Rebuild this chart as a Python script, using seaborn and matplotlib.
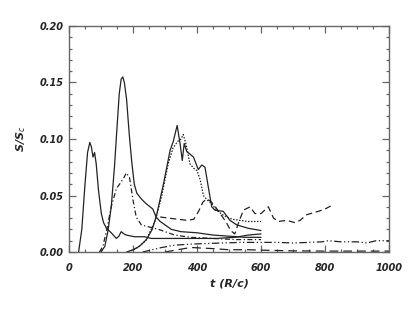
import numpy as np
import pandas as pd
import matplotlib
matplotlib.use("Agg")
import matplotlib.pyplot as plt
import seaborn as sns
from matplotlib.ticker import MultipleLocator, FormatStrFormatter

# =========================
# DATA
# =========================
t1 = [30, 40, 50, 58, 65, 70, 75, 80, 85, 92, 101, 108, 117, 132, 148, 156, 163, 172, 179, 205, 236, 257, 290, 340, 400, 460, 520, 560, 600]
s1 = [0.0, 0.02, 0.06, 0.088, 0.097, 0.093, 0.084, 0.088, 0.078, 0.055, 0.034, 0.026, 0.021, 0.017, 0.012, 0.014, 0.018, 0.016, 0.015, 0.0135, 0.0135, 0.012, 0.012, 0.012, 0.012, 0.012, 0.013, 0.015, 0.016]

t2 = [100, 112, 122, 132, 142, 150, 157, 163, 168, 173, 180, 188, 196, 204, 212, 226, 240, 262, 272, 285, 300, 320, 350, 400, 450, 500, 550, 600]
s2 = [0.0, 0.005, 0.019, 0.040, 0.075, 0.11, 0.140, 0.153, 0.155, 0.150, 0.135, 0.105, 0.080, 0.060, 0.052, 0.047, 0.043, 0.038, 0.031, 0.027, 0.024, 0.020, 0.018, 0.017, 0.015, 0.014, 0.013, 0.013]

t3 = [95, 106, 118, 132, 148, 163, 172, 179, 189, 200, 210, 226, 252, 280, 300, 330, 380, 450, 520, 600]
s3 = [0.0, 0.005, 0.020, 0.040, 0.056, 0.062, 0.066, 0.070, 0.066, 0.046, 0.031, 0.024, 0.022, 0.020, 0.018, 0.015, 0.013, 0.012, 0.011, 0.011]

t4 = [180, 200, 220, 242, 260, 274, 295, 316, 326, 338, 347, 354, 360, 368, 389, 404, 415, 425, 435, 446, 456, 482, 503, 524, 560, 600]
s4 = [0.0, 0.002, 0.005, 0.011, 0.020, 0.033, 0.060, 0.090, 0.098, 0.112, 0.096, 0.081, 0.096, 0.089, 0.084, 0.073, 0.077, 0.075, 0.058, 0.040, 0.037, 0.036, 0.028, 0.024, 0.021, 0.019]

t5 = [185, 210, 240, 270, 290, 310, 325, 340, 350, 357, 365, 378, 390, 400, 410, 420, 432, 445, 461, 480, 493, 510, 534, 560, 600]
s5 = [0.0, 0.003, 0.010, 0.028, 0.050, 0.078, 0.092, 0.098, 0.100, 0.104, 0.096, 0.078, 0.074, 0.072, 0.064, 0.050, 0.046, 0.043, 0.037, 0.033, 0.031, 0.029, 0.028, 0.027, 0.027]

t6 = [285, 310, 340, 370, 390, 405, 418, 430, 442, 455, 470, 492, 505, 518, 530, 545, 566, 581, 600, 623, 639, 654, 680, 706, 722, 743, 779, 800, 826]
s6 = [0.031, 0.030, 0.029, 0.028, 0.029, 0.036, 0.044, 0.047, 0.045, 0.041, 0.035, 0.026, 0.019, 0.016, 0.026, 0.037, 0.040, 0.034, 0.034, 0.040, 0.030, 0.027, 0.028, 0.026, 0.028, 0.033, 0.036, 0.038, 0.042]

t7 = [230, 260, 290, 330, 380, 430, 480, 540, 600, 650, 700, 750, 790, 810, 850, 900, 930, 960, 1000]
s7 = [0.0, 0.002, 0.004, 0.006, 0.007, 0.0075, 0.008, 0.0085, 0.0085, 0.0085, 0.008, 0.0085, 0.009, 0.010, 0.009, 0.009, 0.008, 0.010, 0.010]

t8 = [300, 340, 380, 450, 500, 560, 620, 700, 800, 900, 1000]
s8 = [0.0, 0.002, 0.004, 0.003, 0.002, 0.002, 0.0015, 0.001, 0.0008, 0.0008, 0.0008]

curves = [
    (t1, s1, "-"),
    (t2, s2, "-"),
    (t3, s3, (0, (4, 2, 1, 2))),
    (t4, s4, "-"),
    (t5, s5, (0, (1.2, 1.2))),
    (t6, s6, (0, (5, 3))),
    (t7, s7, (0, (6, 2, 1, 2, 1, 2))),
    (t8, s8, (0, (7, 4))),
]

# =========================
# PLOT
# =========================
sns.set_style("white")
plt.rcParams["font.family"] = ["DejaVu Sans"]

fig = plt.figure(figsize=(4.15, 3.09), dpi=100)
ax = fig.add_axes([69 / 415, 1 - 252 / 309, 320 / 415, 226 / 309])

for t, s, ls in curves:
    sns.lineplot(x=t, y=s, ax=ax, color="#222222", linewidth=0.9, linestyle=ls)

ax.set_xlim(0, 1000)
ax.set_ylim(0, 0.20)
ax.xaxis.set_major_locator(MultipleLocator(200))
ax.xaxis.set_minor_locator(MultipleLocator(50))
ax.yaxis.set_major_locator(MultipleLocator(0.05))
ax.yaxis.set_minor_locator(MultipleLocator(0.01))
ax.yaxis.set_major_formatter(FormatStrFormatter("%.2f"))

ax.tick_params(which="both", direction="in", top=True, right=True,
               bottom=True, left=True, color="#666666", width=0.9)
ax.tick_params(which="major", length=5)
ax.tick_params(which="minor", length=2.5)
ax.tick_params(axis="x", labelsize=7, pad=8)
ax.tick_params(axis="y", labelsize=7, pad=4)
for lab in ax.get_xticklabels() + ax.get_yticklabels():
    lab.set_fontstyle("italic")
    lab.set_fontweight("bold")

for sp in ax.spines.values():
    sp.set_color("#666666")
    sp.set_linewidth(1.0)

ax.set_xlabel("t (R/c)", fontsize=8, fontstyle="italic", fontweight="bold", labelpad=4)
ax.set_ylabel(r"S/S$_c$", fontsize=8, fontstyle="italic", fontweight="bold", labelpad=8)

plt.savefig("out.png", dpi=100)
